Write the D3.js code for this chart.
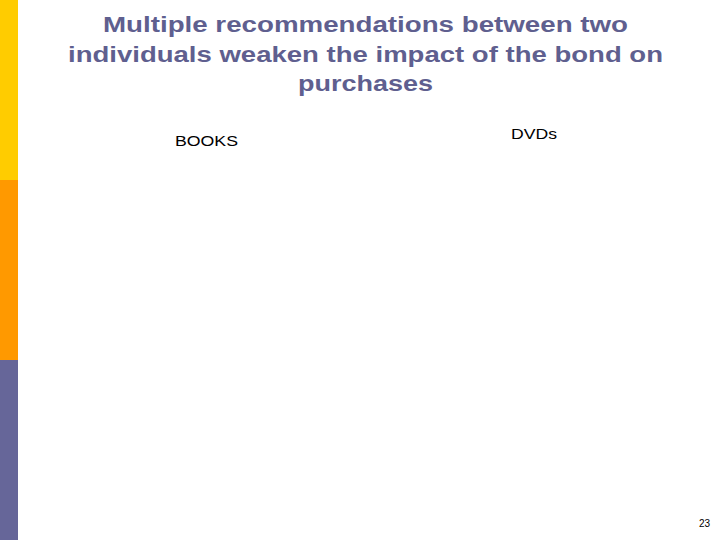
<!DOCTYPE html>
<html>
<head>
<meta charset="utf-8">
<script src="https://cdn.jsdelivr.net/npm/d3@7"></script>
<style>
  html, body { margin: 0; padding: 0; background: #fff; }
  svg { display: block; }
</style>
</head>
<body>
<script>
// slide content
var titleLines = ["Multiple recommendations between two", "individuals weaken the impact of the bond on", "purchases"];
var panelLabels = ["BOOKS", "DVDs"];
var sideBands = ["top", "middle", "bottom"];
var bandColors = ["#FFCC00", "#FF9900", "#666699"];
var pageNumber = ["23"];

var width = 720, height = 540;

var svg = d3.select("body").append("svg")
    .attr("width", width)
    .attr("height", height);

svg.append("rect").attr("width", width).attr("height", height).attr("fill", "#fff");

// left colour strip
var yBand = d3.scaleBand().domain(sideBands).range([0, height]);
var color = d3.scaleOrdinal().domain(sideBands).range(bandColors);

svg.append("g").selectAll("rect")
    .data(sideBands)
    .enter().append("rect")
    .attr("x", 0)
    .attr("y", function(d) { return yBand(d); })
    .attr("width", 18)
    .attr("height", yBand.bandwidth())
    .attr("fill", function(d) { return color(d); });

// title (the slide's text is a bit stretched sideways, so fit each line's width)
var yTitle = d3.scalePoint().domain(d3.range(titleLines.length)).range([32, 91]);
var titleWidths = [525, 595, 135];

svg.append("g").selectAll("text")
    .data(titleLines)
    .enter().append("text")
    .attr("x", 365.5)
    .attr("y", function(d, i) { return yTitle(i); })
    .attr("text-anchor", "middle")
    .attr("font-family", "'Liberation Sans', Arial, sans-serif")
    .attr("font-weight", "bold")
    .attr("font-size", 22)
    .attr("textLength", function(d, i) { return titleWidths[i]; })
    .attr("lengthAdjust", "spacingAndGlyphs")
    .attr("fill", "#5f5f8f")
    .text(function(d) { return d; });

// panel labels
var labelPos = [{x: 175, y: 146, w: 63}, {x: 511, y: 139, w: 46}];

svg.append("g").selectAll("text")
    .data(panelLabels)
    .enter().append("text")
    .attr("x", function(d, i) { return labelPos[i].x; })
    .attr("y", function(d, i) { return labelPos[i].y; })
    .attr("font-family", "'Liberation Sans', Arial, sans-serif")
    .attr("font-size", 15)
    .attr("textLength", function(d, i) { return labelPos[i].w; })
    .attr("lengthAdjust", "spacingAndGlyphs")
    .attr("fill", "#000")
    .text(function(d) { return d; });

// page number
svg.append("text")
    .datum(pageNumber[0])
    .attr("x", 710)
    .attr("y", 527)
    .attr("text-anchor", "end")
    .attr("font-family", "'Liberation Sans', Arial, sans-serif")
    .attr("font-size", 10)
    .attr("fill", "#000")
    .text(function(d) { return d; });
</script>
</body>
</html>
